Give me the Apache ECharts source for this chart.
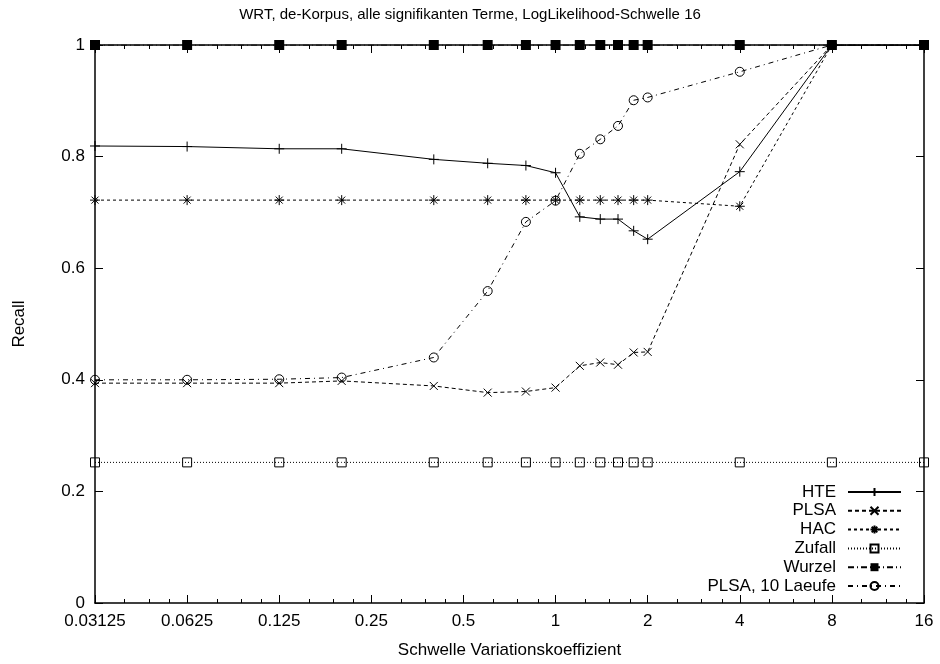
<!DOCTYPE html>
<html>
<head>
<meta charset="utf-8">
<script src="https://cdn.jsdelivr.net/npm/echarts@6/dist/echarts.min.js"></script>
<style>
    html, body { margin: 0; padding: 0; background: #fff; }
    #chart { width: 940px; height: 664px; }
</style>
</head>
<body>
<div id="chart"></div>
<script>
// Schwellen (x), log2-Achse
var schwellen = [0.03125, 0.0625, 0.125, 0.2, 0.4, 0.6, 0.8, 1, 1.2, 1.4, 1.6, 1.8, 2, 4, 8, 16];

// Recall-Werte je Verfahren
var hte = [0.819, 0.818, 0.814, 0.814, 0.795, 0.788, 0.784, 0.771, 0.692, 0.688, 0.688, 0.667, 0.652, 0.773, 1, 1];
var plsa = [0.394, 0.394, 0.394, 0.398, 0.389, 0.377, 0.379, 0.386, 0.425, 0.431, 0.427, 0.449, 0.450, 0.822, 1, 1];
var hac = [0.722, 0.722, 0.722, 0.722, 0.722, 0.722, 0.722, 0.722, 0.722, 0.722, 0.722, 0.722, 0.722, 0.711, 1, 1];
var zufall = [0.252, 0.252, 0.252, 0.252, 0.252, 0.252, 0.252, 0.252, 0.252, 0.252, 0.252, 0.252, 0.252, 0.252, 0.252, 0.252];
var wurzel = [1, 1, 1, 1, 1, 1, 1, 1, 1, 1, 1, 1, 1, 1, 1, 1];
var plsa10 = [0.400, 0.400, 0.401, 0.404, 0.440, 0.559, 0.683, 0.721, 0.805, 0.831, 0.855, 0.901, 0.906, 0.952, 1, 1];

var seriesNames = ['HTE', 'PLSA', 'HAC', 'Zufall', 'Wurzel', 'PLSA, 10 Laeufe'];
var yTicks = [0, 0.2, 0.4, 0.6, 0.8, 1];

var FONT = 'Liberation Sans';

function pairs(vals) {
    return schwellen.map(function (x, i) {
        return [x, vals[i]];
    });
}

// offene Symbole: nur Umriss
var hohl = {color: 'none', borderColor: '#000', borderWidth: 1};

function linie(name, vals, dash, symbol, size, itemStyle) {
    return {
        name: name,
        type: 'line',
        data: pairs(vals),
        symbol: symbol,
        symbolSize: size,
        showSymbol: true,
        itemStyle: itemStyle || hohl,
        lineStyle: {color: '#000', width: 1, type: dash},
        emphasis: {disabled: true},
        z: 3
    };
}

var logAchse = {
    type: 'log',
    logBase: 2,
    min: 0.03125,
    max: 16,
    splitNumber: 9,
    axisLine: {show: true, onZero: false, lineStyle: {color: '#000', width: 1.5}},
    axisTick: {show: true, inside: true, length: 8, lineStyle: {color: '#000', width: 1}},
    minorTick: {show: true, splitNumber: 4, length: 4, lineStyle: {color: '#000', width: 1}},
    splitLine: {show: false},
    minorSplitLine: {show: false}
};

var wertAchse = {
    type: 'value',
    min: yTicks[0],
    max: yTicks[yTicks.length - 1],
    interval: 0.2,
    axisLine: {show: true, onZero: false, lineStyle: {color: '#000', width: 1.5}},
    axisTick: {show: true, inside: true, length: 8, lineStyle: {color: '#000', width: 1}},
    splitLine: {show: false}
};

var chart = echarts.init(document.getElementById('chart'));
chart.setOption({
    animation: false,
    backgroundColor: '#fff',
    textStyle: {fontFamily: FONT},
    title: {
        text: 'WRT, de-Korpus, alle signifikanten Terme, LogLikelihood-Schwelle 16',
        left: 'center',
        top: 2,
        textStyle: {fontFamily: FONT, fontSize: 15, fontWeight: 'normal', color: '#000'}
    },
    grid: {left: 95, right: 16, top: 45, bottom: 61},
    legend: {
        data: seriesNames,
        orient: 'vertical',
        align: 'right',
        right: 33,
        top: 478,
        itemWidth: 53,
        itemHeight: 10,
        itemGap: 0.8,
        textStyle: {fontFamily: FONT, fontSize: 17, color: '#000', lineHeight: 18, padding: [0, 7, 0, 0]},
        selectedMode: false
    },
    xAxis: [
        Object.assign({}, logAchse, {
            position: 'bottom',
            name: 'Schwelle Variationskoeffizient',
            nameLocation: 'middle',
            nameGap: 39,
            nameTextStyle: {fontFamily: FONT, fontSize: 17, color: '#000'},
            axisLabel: {
                show: true, margin: 10, fontFamily: FONT, fontSize: 17, color: '#000',
                formatter: function (v) { return String(v); }
            }
        }),
        Object.assign({}, logAchse, {
            position: 'top',
            axisLabel: {show: false}
        })
    ],
    yAxis: [
        Object.assign({}, wertAchse, {
            position: 'left',
            name: 'Recall',
            nameLocation: 'middle',
            nameRotate: 90,
            nameGap: 67,
            nameTextStyle: {fontFamily: FONT, fontSize: 17, color: '#000'},
            axisLabel: {
                show: true, margin: 10, fontFamily: FONT, fontSize: 17, color: '#000',
                formatter: function (v) { return String(Math.round(v * 10) / 10); }
            }
        }),
        Object.assign({}, wertAchse, {
            position: 'right',
            axisLabel: {show: false}
        })
    ],
    series: [
        linie('HTE', hte, 'solid', 'path://M5,0L5,10M0,5L10,5', 10),
        linie('PLSA', plsa, [4, 3], 'path://M0,0L10,10M10,0L0,10', 8),
        linie('HAC', hac, [3, 3], 'path://M5,0L5,10M0,5L10,5M1.5,1.5L8.5,8.5M8.5,1.5L1.5,8.5', 10),
        linie('Zufall', zufall, [1, 2], 'path://M0,0L10,0L10,10L0,10Z', 9),
        linie('Wurzel', wurzel, [6, 3, 1, 3], 'rect', 10, {color: '#000'}),
        linie('PLSA, 10 Laeufe', plsa10, [5, 4, 1, 4], 'path://M10,5A5,5,0,1,1,0,5A5,5,0,1,1,10,5Z', 9)
    ]
});
</script>
</body>
</html>
